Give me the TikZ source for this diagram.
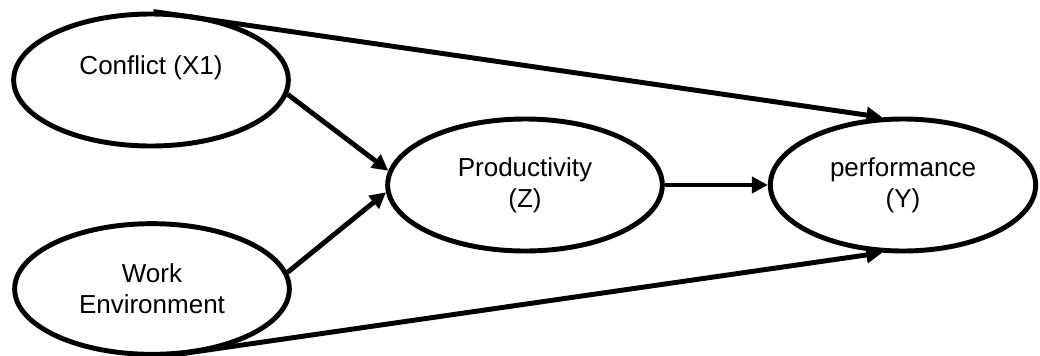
\documentclass[tikz,border=0pt]{standalone}
\usepackage{fontspec}
\setmainfont{Liberation Sans}
\usetikzlibrary{shapes.geometric,arrows.meta}
\begin{document}
\begin{tikzpicture}[x=0.75pt,y=-0.75pt,
  ell/.style={ellipse,draw,line width=3.7pt,inner sep=0pt,align=center,
    font=\fontsize{19.5}{23}\selectfont},
  conn/.style={line width=3.7pt,-{Triangle[length=12pt,width=12pt]}}]
\useasboundingbox (0,0) rectangle (1040,355);
\node[ell,minimum width=206pt,minimum height=99pt] (conf) at (151,80) {Conflict (X1)\\ ~};
\node[ell,minimum width=206pt,minimum height=98pt] (work) at (152,289) {Work\\Environment};
\node[ell,minimum width=206pt,minimum height=99pt] (prod) at (525,185) {Productivity\\(Z)};
\node[ell,minimum width=199pt,minimum height=99pt] (perf) at (903,185) {performance\\(Y)};
\draw[conn] (conf.-6) -- (prod.174);
\draw[conn] (work.7) -- (prod.183);
\draw[conn] (prod.east) -- (perf.west);
\draw[conn] (conf.88) -- (perf.107);
\draw[conn] (work.-82) -- (perf.-107);
\end{tikzpicture}
\end{document}
